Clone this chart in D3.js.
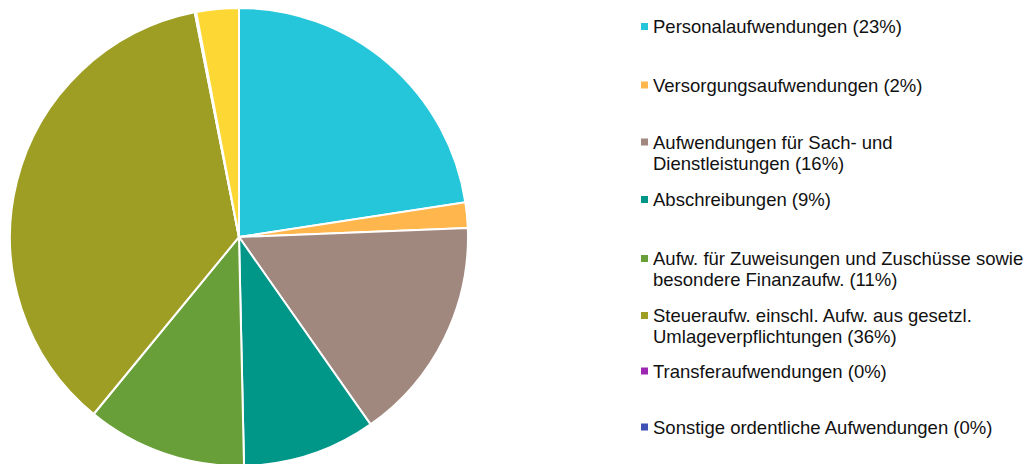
<!DOCTYPE html>
<html>
<head>
<meta charset="utf-8">
<script src="https://cdn.jsdelivr.net/npm/d3@7"></script>
<style>
  body { margin: 0; background: #fff; }
  text { font-family: Arial, "Liberation Sans", Helvetica, sans-serif; }
</style>
</head>
<body>
<svg id="chart" width="1035" height="464"></svg>
<script>
// slice names, legend lines and values (percent)
const categories = ['Personalaufwendungen','Versorgungsaufwendungen','Aufwendungen für Sach- und Dienstleistungen',
  'Abschreibungen','Aufw. für Zuweisungen und Zuschüsse sowie besondere Finanzaufw.',
  'Steueraufw. einschl. Aufw. aus gesetzl. Umlageverpflichtungen','Transferaufwendungen',
  'Sonstige ordentliche Aufwendungen','Zinsen und ähnliche Aufwendungen'];
const legendLines = [
  ['Personalaufwendungen (23%)'],
  ['Versorgungsaufwendungen (2%)'],
  ['Aufwendungen für Sach- und','Dienstleistungen (16%)'],
  ['Abschreibungen (9%)'],
  ['Aufw. für Zuweisungen und Zuschüsse sowie','besondere Finanzaufw. (11%)'],
  ['Steueraufw. einschl. Aufw. aus gesetzl.','Umlageverpflichtungen (36%)'],
  ['Transferaufwendungen (0%)'],
  ['Sonstige ordentliche Aufwendungen (0%)']
];
const values = [22.6, 1.8, 15.9, 9.4, 11.3, 36.0, 0.05, 0.05, 3.0];
const colors = ['#26C6DA','#FFB74D','#A1887F','#009688','#689F38','#9E9D24','#9C27B0','#3F51B5','#FDD835'];
// baseline of the first line of each legend entry
const legendY = [33, 91.5, 148.5, 206, 265, 322, 377.5, 433.5];

const svg = d3.select('#chart');
const cx = 239, cy = 237, r = 229;

const pie = d3.pie().sort(null).value(d => d);
const arc = d3.arc().innerRadius(0).outerRadius(r);

svg.append('g')
    .attr('transform', `translate(${cx},${cy})`)
  .selectAll('path')
  .data(pie(values))
  .join('path')
    .attr('d', arc)
    .attr('fill', (d,i) => colors[i])
    .attr('stroke', '#fff')
    .attr('stroke-width', 2);

const legend = svg.append('g');
legendLines.forEach((lines, i) => {
  const g = legend.append('g');
  g.append('rect')
      .attr('x', 641)
      .attr('y', legendY[i] - 10)
      .attr('width', 7)
      .attr('height', 7)
      .attr('fill', colors[i]);
  const t = g.append('text')
      .attr('x', 653)
      .attr('y', legendY[i])
      .attr('font-size', 18.5)
      .attr('fill', '#111');
  lines.forEach((l, j) => {
    t.append('tspan').attr('x', 653).attr('dy', j === 0 ? 0 : '21px').text(l);
  });
});
</script>
</body>
</html>
